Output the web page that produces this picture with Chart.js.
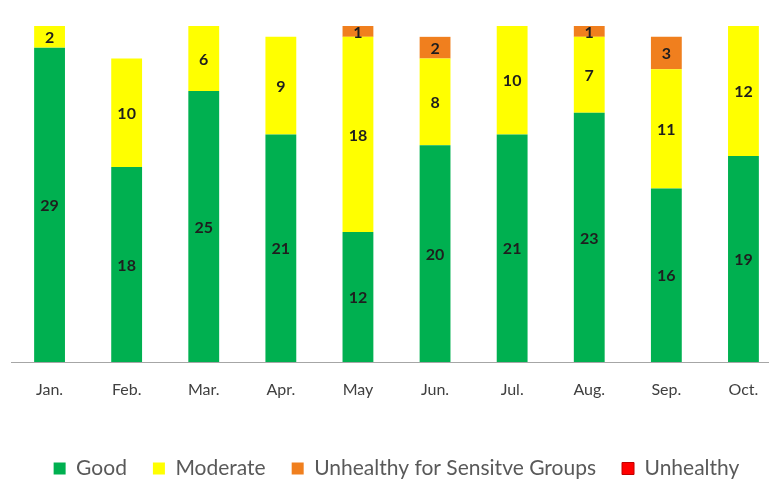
<!DOCTYPE html>
<html>
<head>
<meta charset="utf-8">
<script src="https://cdn.jsdelivr.net/npm/chart.js@4.4.1/dist/chart.umd.min.js"></script>
<style>
  html, body { margin: 0; padding: 0; background: #fff; overflow: hidden; }
  #wrap { width: 795px; height: 489px; }
</style>
</head>
<body>
<div id="wrap"><canvas id="chart" width="795" height="489"></canvas></div>
<script>
const months = ['Jan.', 'Feb.', 'Mar.', 'Apr.', 'May', 'Jun.', 'Jul.', 'Aug.', 'Sep.', 'Oct.']
const good = [29, 18, 25, 21, 12, 20, 21, 23, 16, 19]
const moderate = [2, 10, 6, 9, 18, 8, 10, 7, 11, 12]
const sensitive = [0, 0, 0, 0, 1, 2, 0, 1, 3, 0]
const unhealthy = [0, 0, 0, 0, 0, 0, 0, 0, 0, 0]

// draws the count in the middle of each segment
const segmentLabels = {
  id: 'segmentLabels',
  afterDatasetsDraw(chart) {
    const ctx = chart.ctx
    ctx.save()
    ctx.font = 'bold 16px Lato, "Open Sans", sans-serif'
    ctx.fillStyle = '#1e1e1e'
    ctx.textAlign = 'center'
    ctx.textBaseline = 'middle'
    chart.data.datasets.forEach((ds, i) => {
      const meta = chart.getDatasetMeta(i)
      meta.data.forEach((bar, j) => {
        const v = ds.data[j]
        if (!v) return
        ctx.fillText(v, bar.x, (bar.y + bar.base) / 2 + 1)
      })
    })
    ctx.restore()
  }
}

const barOpts = { barPercentage: 0.8, categoryPercentage: 0.5, borderWidth: 0 }

new Chart(document.getElementById('chart'), {
  type: 'bar',
  data: {
    labels: months,
    datasets: [
      { label: 'Good', data: good, backgroundColor: '#00b050', ...barOpts },
      { label: 'Moderate', data: moderate, backgroundColor: '#ffff00', ...barOpts },
      { label: 'Unhealthy for Sensitve Groups', data: sensitive, backgroundColor: '#f07f1e', ...barOpts },
      { label: 'Unhealthy', data: unhealthy, backgroundColor: '#ff0000', borderColor: '#c00000', ...barOpts }
    ]
  },
  options: {
    responsive: false,
    animation: false,
    layout: { padding: { top: 26, left: 11, right: 13, bottom: 0 } },
    plugins: {
      legend: {
        position: 'bottom',
        labels: {
          boxWidth: 12,
          boxHeight: 12,
          padding: 26,
          color: '#595959',
          font: { size: 21, family: 'Lato, "Open Sans", sans-serif' },
          generateLabels: (chart) => chart.data.datasets.map((ds, i) => ({
            text: ds.label,
            fillStyle: ds.backgroundColor,
            strokeStyle: i === 3 ? '#c00000' : ds.backgroundColor,
            lineWidth: i === 3 ? 1 : 0,
            fontColor: '#595959',
            datasetIndex: i
          }))
        }
      },
      tooltip: { enabled: false }
    },
    scales: {
      x: {
        stacked: true,
        grid: { display: false },
        border: { color: '#a6a6a6', width: 1 },
        ticks: { color: '#404040', padding: 10, font: { size: 16, family: 'Lato, "Open Sans", sans-serif' } },
        afterFit: (scale) => { scale.height = 70 }
      },
      y: {
        stacked: true,
        display: false,
        min: 0,
        max: 31
      }
    }
  },
  plugins: [segmentLabels]
})
</script>
</body>
</html>
